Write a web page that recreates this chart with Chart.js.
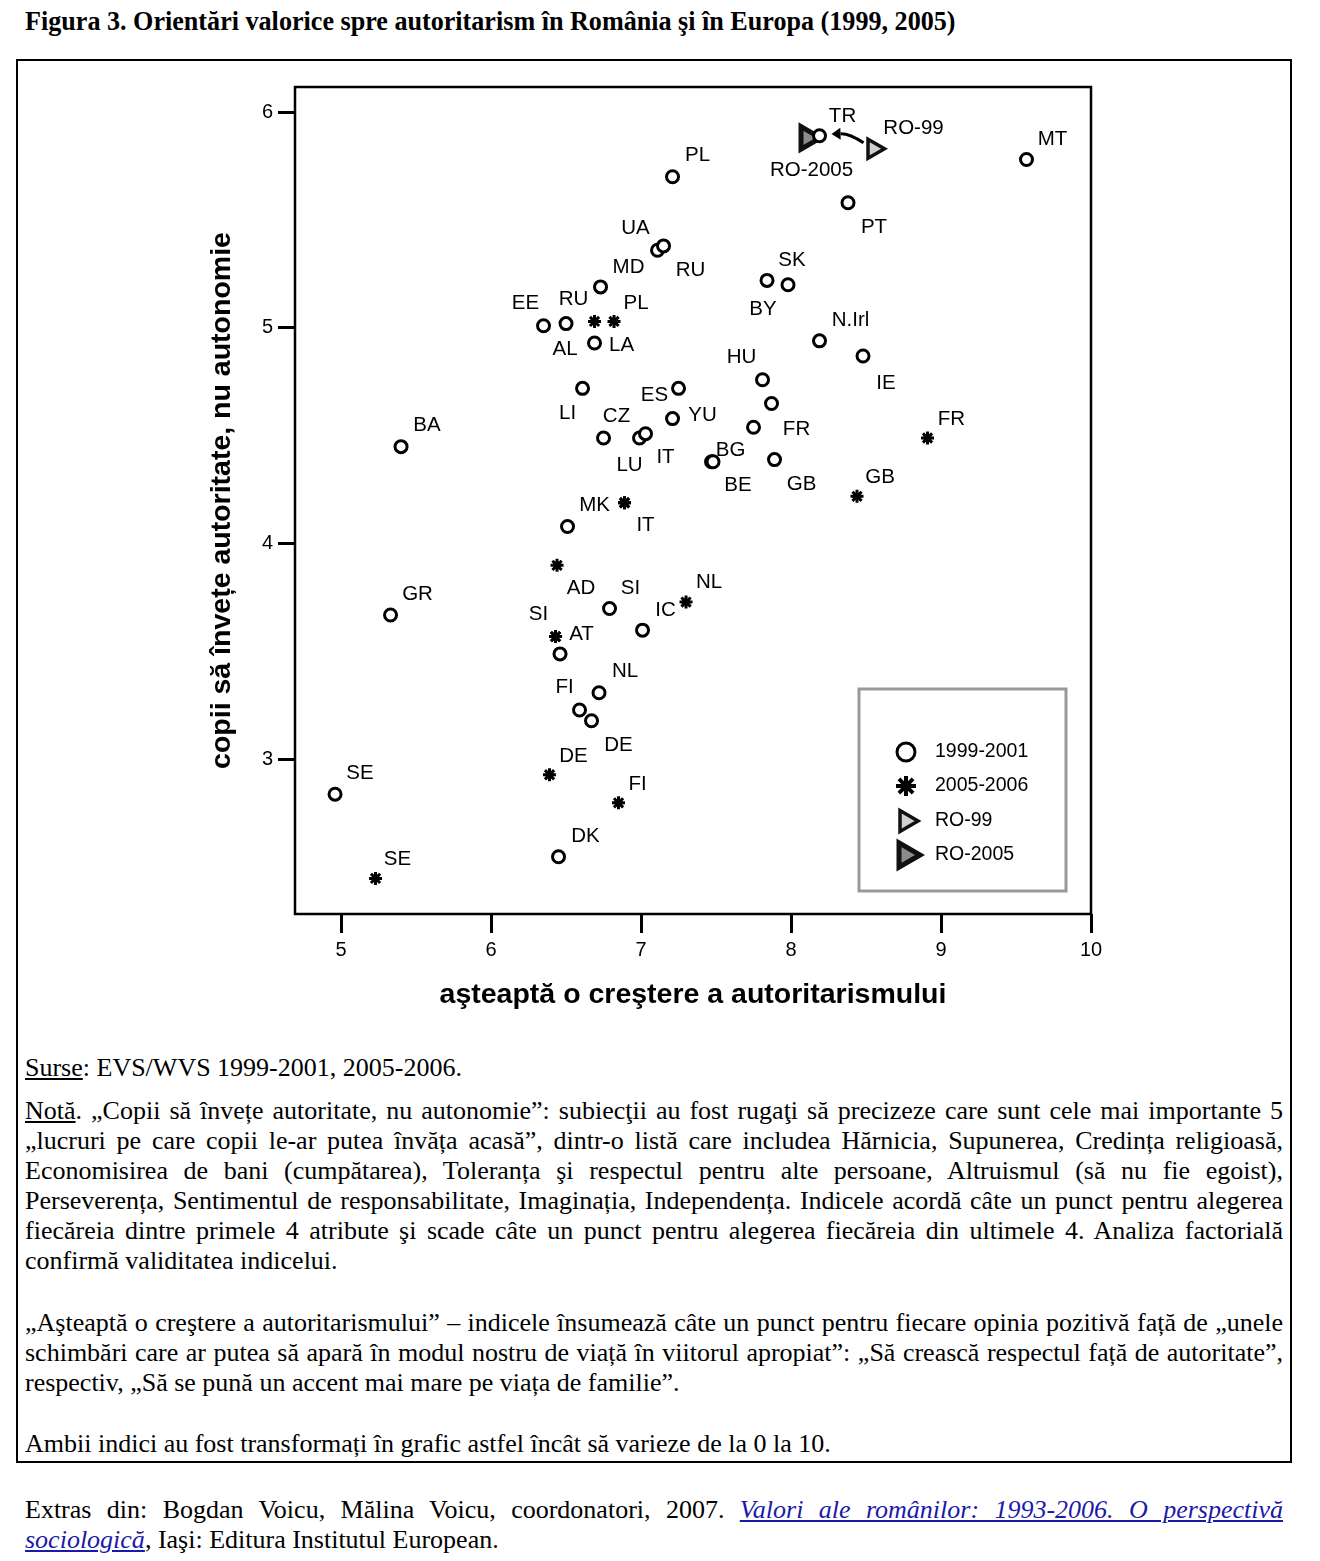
<!DOCTYPE html>
<html lang="ro">
<head>
<meta charset="utf-8">
<title>Figura 3</title>
<script src="https://cdn.jsdelivr.net/npm/chart.js@4.4.0/dist/chart.umd.min.js"></script>
<style>
  body { margin: 0; background: #fff; width: 1320px; height: 1561px; position: relative; overflow: hidden;
         font-family: "Liberation Serif", "Times New Roman", serif; color: #000; }
  #title { position: absolute; left: 25px; top: 7px; font-weight: bold; font-size: 23px; line-height: 30px;
           white-space: nowrap; transform-origin: left center; }
  #frame { position: absolute; left: 16px; top: 59px; width: 1276px; height: 1404px; border: 2px solid #000; box-sizing: border-box; }
  #chartBox { position: absolute; left: 0; top: 0; width: 1320px; height: 1040px; }
  .ln { position: absolute; left: 25px; width: 1258px; font-size: 26px; line-height: 30px; height: 30px; overflow: hidden; }
  .j { text-align: justify; text-align-last: justify; }
  a { color: #1a1aa8; font-style: italic; }
</style>
</head>
<body>
<div id="title">Figura 3. Orientări valorice spre autoritarism în România şi în Europa (1999, 2005)</div>
<div id="frame"></div>
<div id="chartBox"><canvas id="scatter" width="1320" height="1040"></canvas></div>

<div class="ln" style="top:1053px"><u>Surse</u>: EVS/WVS 1999-2001, 2005-2006.</div>

<div class="ln j" style="top:1096px"><u>Notă</u>. „Copii să învețe autoritate, nu autonomie”: subiecţii au fost rugaţi să precizeze care sunt cele mai importante 5</div>
<div class="ln j" style="top:1126px">„lucruri pe care copii le-ar putea învăța acasă”, dintr-o listă care includea Hărnicia, Supunerea, Credința religioasă,</div>
<div class="ln j" style="top:1156px">Economisirea de bani (cumpătarea), Toleranța şi respectul pentru alte persoane, Altruismul (să nu fie egoist),</div>
<div class="ln j" style="top:1186px">Perseverența, Sentimentul de responsabilitate, Imaginația, Independența. Indicele acordă câte un punct pentru alegerea</div>
<div class="ln j" style="top:1216px">fiecăreia dintre primele 4 atribute şi scade câte un punct pentru alegerea fiecăreia din ultimele 4. Analiza factorială</div>
<div class="ln" style="top:1246px">confirmă validitatea indicelui.</div>

<div class="ln j" style="top:1308px">„Aşteaptă o creştere a autoritarismului” – indicele însumează câte un punct pentru fiecare opinia pozitivă față de „unele</div>
<div class="ln j" style="top:1338px">schimbări care ar putea să apară în modul nostru de viață în viitorul apropiat”: „Să crească respectul față de autoritate”,</div>
<div class="ln" style="top:1368px">respectiv, „Să se pună un accent mai mare pe viața de familie”.</div>

<div class="ln" style="top:1429px">Ambii indici au fost transformați în grafic astfel încât să varieze de la 0 la 10.</div>

<div class="ln j" style="top:1495px">Extras din: Bogdan Voicu, Mălina Voicu, coordonatori, 2007. <a href="#">Valori ale românilor: 1993-2006. O perspectivă</a></div>
<div class="ln" style="top:1525px"><a href="#">sociologică</a>, Iaşi: Editura Institutul European.</div>

<script>
// ---------- DATA ----------
// 1999-2001 wave (open circles)
const circleCodes = ["PL", "UA", "RU", "MD", "EE", "AL", "LA", "TR", "MT", "PT",
                     "BY", "SK", "N.Irl", "IE", "HU", "LI", "ES", "YU", "CZ", "LU",
                     "IT", "BA", "", "FR", "BG", "BE", "GB", "", "GR", "SI",
                     "IC", "", "NL", "FI", "DE", "SE", "DK"];
const circleX = [7.21, 7.11, 7.15, 6.73, 6.35, 6.50, 6.69, 8.19, 9.57, 8.38,
                 7.84, 7.98, 8.19, 8.48, 7.81, 6.61, 7.25, 7.21, 6.75, 6.99,
                 7.03, 5.40, 7.87, 7.75, 7.47, 7.48, 7.89, 6.51, 5.33, 6.79,
                 7.01, 6.46, 6.72, 6.59, 6.67, 4.96, 6.45];
const circleY = [5.70, 5.36, 5.38, 5.19, 5.01, 5.02, 4.93, 5.89, 5.78, 5.58,
                 5.22, 5.20, 4.94, 4.87, 4.76, 4.72, 4.72, 4.58, 4.49, 4.49,
                 4.51, 4.45, 4.65, 4.54, 4.38, 4.38, 4.39, 4.08, 3.67, 3.70,
                 3.60, 3.49, 3.31, 3.23, 3.18, 2.84, 2.55];

// 2005-2006 wave (stars)
const starCodes = ["RU", "PL", "FR", "GB", "MK", "IT", "AD", "NL", "SI", "AT", "DE", "FI", "SE"];
const starX = [6.69, 6.82, 8.91, 8.44, 6.89, 6.89, 6.44, 7.30, 6.43, 6.43, 6.39, 6.85, 5.23];
const starY = [5.03, 5.03, 4.49, 4.22, 4.19, 4.19, 3.90, 3.73, 3.57, 3.57, 2.93, 2.80, 2.45];

// Romania
const roCodes = ["RO-99", "RO-2005"];
const roX = [8.55, 8.11];
const roY = [5.83, 5.88];

// axes
const xTicks = [5, 6, 7, 8, 9, 10];
const yTicks = [3, 4, 5, 6];
const xRange = [4.693, 10];
const yRange = [2.285, 6.116];

// ---------- LABEL PLACEMENT (pixels from the marker) ----------
const circleLabelOff = [[25, -21], [-22, -22], [27, 24], [28, -20], [-18, -22], [-1, 26], [27, 2], [23, -19], [26, -20], [26, 25],
                        [-4, 29], [4, -24], [31, -21], [23, 27], [-21, -22], [-15, 25], [-24, 7], [30, -3], [13, -22], [-10, 27],
                        [20, 24], [26, -21], [0, 0], [43, 2], [19, -11], [25, 24], [27, 25], [0, 0], [27, -21], [21, -20],
                        [23, -20], [0, 0], [26, -21], [-15, -23], [27, 25], [25, -21], [27, -20]];
const starLabelOff = [[-21, -22], [22, -18], [24, -19], [23, -19], [-30, 3], [21, 23], [24, 23], [23, -20], [-17, -22], [26, -2], [24, -18], [19, -18], [22, -19]];
const roLabelOff = [[40, -20], [4, 32]];

const toPoints = (xs, ys) => xs.map((x, i) => ({ x: x, y: ys[i] }));
const SANS = "'Liberation Sans', Arial, sans-serif";

// fit the title to the width it has in the figure
let titleEl = document.getElementById("title");
titleEl.style.transform = `scale(${930 / titleEl.offsetWidth}, 1.15)`;

// ---------- PLUGINS ----------
const plotFrame = {
  id: "plotFrame",
  beforeDatasetsDraw(chart) {
    const { ctx, chartArea: a } = chart;
    ctx.save();
    ctx.strokeStyle = "#000";
    ctx.lineWidth = 2.5;
    ctx.strokeRect(a.left, a.top, a.right - a.left, a.bottom - a.top);
    ctx.restore();
  }
};

const pointLabels = {
  id: "pointLabels",
  afterDatasetsDraw(chart) {
    const ctx = chart.ctx;
    ctx.save();
    ctx.fillStyle = "#000";
    ctx.font = "20.5px " + SANS;
    ctx.textAlign = "center";
    ctx.textBaseline = "middle";
    chart.data.datasets.forEach((ds, i) => {
      if (!ds.codes) return;
      chart.getDatasetMeta(i).data.forEach((pt, j) => {
        if (!ds.codes[j]) return;
        ctx.fillText(ds.codes[j], pt.x + ds.offs[j][0], pt.y + ds.offs[j][1]);
      });
    });
    ctx.restore();
  }
};

// curved arrow from RO-99 to RO-2005
const roArrow = {
  id: "roArrow",
  afterDatasetsDraw(chart) {
    const ctx = chart.ctx;
    const p99 = chart.getDatasetMeta(3).data[0];
    const p05 = chart.getDatasetMeta(2).data[0];
    const sx = p99.x - 10, sy = p99.y - 6;
    const tx = p05.x + 24, ty = p05.y - 4;
    const cx = (sx + tx) / 2 + 2, cy = (sy + ty) / 2 - 5;
    const ang = Math.atan2(ty - cy, tx - cx);
    const bx = tx - Math.cos(ang) * 9, by = ty - Math.sin(ang) * 9;
    ctx.save();
    ctx.strokeStyle = "#000";
    ctx.fillStyle = "#000";
    ctx.lineWidth = 3;
    ctx.beginPath();
    ctx.moveTo(sx, sy);
    ctx.quadraticCurveTo(cx, cy, bx, by);
    ctx.stroke();
    ctx.beginPath();
    ctx.moveTo(tx, ty);
    ctx.lineTo(bx + Math.sin(ang) * 6, by - Math.cos(ang) * 6);
    ctx.lineTo(bx - Math.sin(ang) * 6, by + Math.cos(ang) * 6);
    ctx.closePath();
    ctx.fill();
    ctx.restore();
  }
};

// boxed legend inside the plot, lower right
const boxLegend = {
  id: "boxLegend",
  afterDraw(chart) {
    const { ctx, chartArea: a } = chart;
    const bx = a.right - 232, by = a.bottom - 225;
    ctx.save();
    ctx.strokeStyle = "#999";
    ctx.lineWidth = 3;
    ctx.strokeRect(bx, by, 207, 202);

    const rows = [
      { ds: 0, dy: 63, style: { pointStyle: "circle", radius: 9, borderWidth: 3, rotation: 0 } },
      { ds: 1, dy: 97, style: { pointStyle: "star", radius: 10, borderWidth: 4, rotation: 0 } },
      { ds: 3, dy: 132, style: { pointStyle: "triangle", radius: 12, borderWidth: 3.5, rotation: 90 } },
      { ds: 2, dy: 166, style: { pointStyle: "triangle", radius: 14, borderWidth: 5, rotation: 90 } }
    ];
    rows.forEach(r => {
      const ds = chart.data.datasets[r.ds];
      ctx.fillStyle = ds.pointBackgroundColor;
      ctx.strokeStyle = ds.pointBorderColor;
      ctx.lineWidth = r.style.borderWidth;
      Chart.helpers.drawPoint(ctx, r.style, bx + 47, by + r.dy);
      ctx.fillStyle = "#000";
      ctx.font = "19.5px " + SANS;
      ctx.textAlign = "left";
      ctx.textBaseline = "middle";
      ctx.fillText(ds.label, bx + 76, by + r.dy);
    });
    ctx.restore();
  }
};

// ---------- CHART ----------
new Chart(document.getElementById("scatter"), {
  type: "scatter",
  data: {
    datasets: [
      {
        label: "1999-2001",
        data: toPoints(circleX, circleY),
        codes: circleCodes,
        offs: circleLabelOff,
        pointStyle: "circle",
        pointRadius: 6,
        pointBorderWidth: 3,
        pointBorderColor: "#000",
        pointBackgroundColor: "#fff"
      },
      {
        label: "2005-2006",
        data: toPoints(starX, starY),
        codes: starCodes,
        offs: starLabelOff,
        pointStyle: "star",
        pointRadius: 6.5,
        pointBorderWidth: 3,
        pointBorderColor: "#000",
        pointBackgroundColor: "#000"
      },
      {
        label: roCodes[1],
        data: [{ x: roX[1], y: roY[1] }],
        codes: [roCodes[1]],
        offs: [roLabelOff[1]],
        pointStyle: "triangle",
        pointRotation: 90,
        pointRadius: 13,
        pointBorderWidth: 5,
        pointBorderColor: "#111",
        pointBackgroundColor: "#8c8c8c"
      },
      {
        label: roCodes[0],
        data: [{ x: roX[0], y: roY[0] }],
        codes: [roCodes[0]],
        offs: [roLabelOff[0]],
        pointStyle: "triangle",
        pointRotation: 90,
        pointRadius: 11,
        pointBorderWidth: 3.5,
        pointBorderColor: "#111",
        pointBackgroundColor: "#cfcfcf"
      }
    ]
  },
  options: {
    responsive: false,
    animation: false,
    events: [],
    layout: { padding: { left: 0, top: 87, right: 229, bottom: 0 } },
    plugins: {
      legend: { display: false },
      tooltip: { enabled: false }
    },
    scales: {
      x: {
        type: "linear",
        position: "bottom",
        min: xRange[0],
        max: xRange[1],
        afterBuildTicks: axis => { axis.ticks = xTicks.map(v => ({ value: v })); },
        afterFit: axis => { axis.height = 126; },
        grid: { drawOnChartArea: false, drawTicks: true, tickLength: 19, tickWidth: 3, tickColor: "#000" },
        border: { display: false },
        ticks: { color: "#000", padding: 5, maxRotation: 0, autoSkip: false, font: { family: SANS, size: 20 } },
        title: {
          display: true,
          text: "aşteaptă o creştere a autoritarismului",
          color: "#000",
          font: { family: SANS, size: 28.5, weight: "bold" },
          padding: { top: 0, bottom: 28 }
        }
      },
      y: {
        type: "linear",
        min: yRange[0],
        max: yRange[1],
        afterBuildTicks: axis => { axis.ticks = yTicks.map(v => ({ value: v })); },
        afterFit: axis => { axis.width = 295; },
        grid: { drawOnChartArea: false, drawTicks: true, tickLength: 17, tickWidth: 3, tickColor: "#000" },
        border: { display: false },
        ticks: { color: "#000", padding: 5, autoSkip: false, font: { family: SANS, size: 20 } },
        title: {
          display: true,
          text: "copii să învețe autoritate, nu autonomie",
          color: "#000",
          font: { family: SANS, size: 28.5, weight: "bold" },
          padding: { top: 205, bottom: 0 }
        }
      }
    }
  },
  plugins: [plotFrame, pointLabels, roArrow, boxLegend]
});
</script>
</body>
</html>
